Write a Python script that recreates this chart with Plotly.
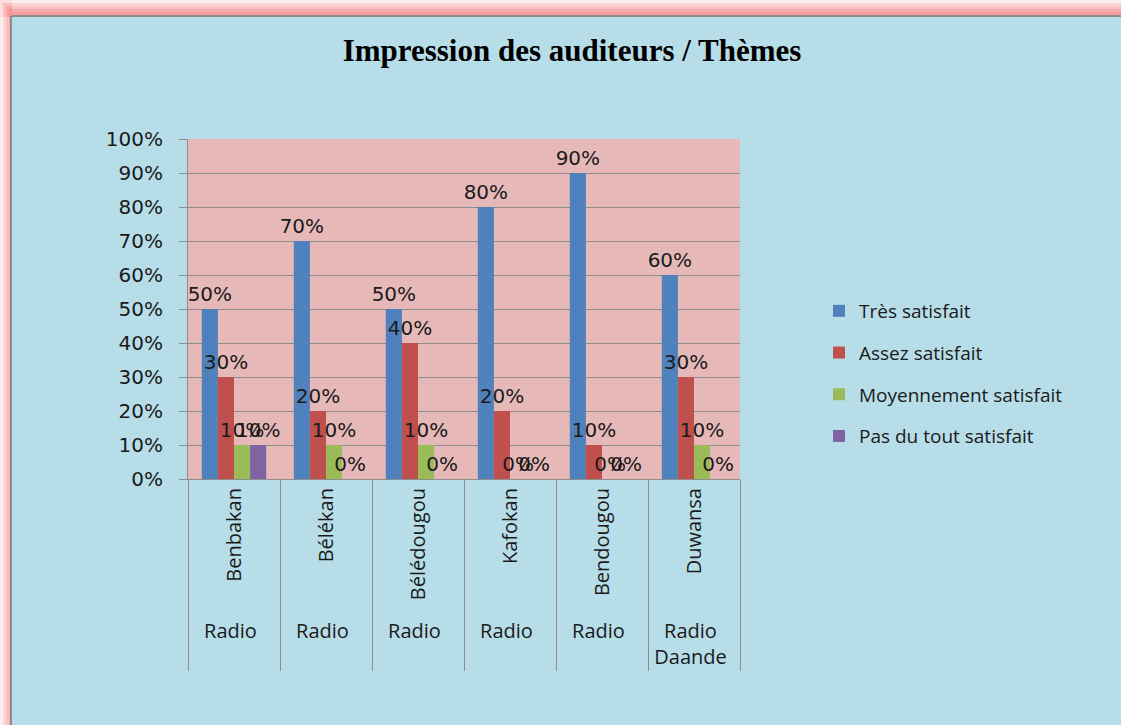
import plotly.graph_objects as go

# Données (en %)
stations = ["Benbakan", "Bélékan", "Bélédougou", "Kafokan", "Bendougou", "Duwansa"]
# libellé du 2e niveau; un caractère invisible évite que plotly fusionne les "Radio" voisins
radios = ["Radio", "Radio\u200b", "Radio\u200b\u200b", "Radio\u200b\u200b\u200b",
          "Radio\u200b\u200b\u200b\u200b", "Radio<br>Daande"]

tres_satisfait = [50, 70, 50, 80, 90, 60]
assez_satisfait = [30, 20, 40, 20, 10, 30]
moyennement_satisfait = [10, 10, 10, 0, 0, 10]
pas_du_tout_satisfait = [10, 0, 0, 0, 0, 0]

series = [
    ("Très satisfait", tres_satisfait, "#4F81BD"),
    ("Assez satisfait", assez_satisfait, "#C0504D"),
    ("Moyennement satisfait", moyennement_satisfait, "#9BBB59"),
    ("Pas du tout satisfait", pas_du_tout_satisfait, "#8064A2"),
]

W, H = 1121, 725
L, R, T, B = 188, 381, 139, 246  # marges -> zone de tracé 188..740 x 139..479


# pixel -> coordonnées "paper"
def px(x):
    return (x - L) / (W - L - R)


def py(y):
    return (H - B - y) / (H - T - B)


fig = go.Figure()
for i, (name, vals, col) in enumerate(series):
    fig.add_trace(go.Bar(
        x=[radios, stations],
        y=[v / 100 for v in vals],
        name=name,
        legendgroup=str(i),
        marker=dict(color=col, line=dict(width=0)),
        text=[f"{v}%" for v in vals],
        textposition="outside",
        constraintext="none",
        cliponaxis=False,
        textfont=dict(family="DejaVu Sans", size=20, color="#1a1a1a"),
        hoverinfo="name+y",
    ))

fig.update_layout(
    width=W, height=H,
    margin=dict(l=L, r=R, t=T, b=B),
    paper_bgcolor="#B7DDE8",
    plot_bgcolor="#E6B9B8",
    barmode="group",
    bargap=0.3,
    bargroupgap=0,
    title=dict(text="<b>Impression des auditeurs / Thèmes</b>",
               x=572 / W, xanchor="center", y=1 - 50 / H, yanchor="middle",
               font=dict(family="Liberation Serif", size=31, color="black")),
    legend=dict(x=px(819), xanchor="left", y=py(292), yanchor="top",
                font=dict(family="Open Sans", size=19, color="#1a1a1a"),
                tracegroupgap=14, bgcolor="rgba(0,0,0,0)"),
    font=dict(family="Open Sans", color="#1a1a1a"),
)

fig.update_yaxes(
    range=[0, 1], dtick=0.1, tickformat=".0%",
    showgrid=True, gridcolor="#8E8E8E", gridwidth=1,
    showline=True, linecolor="#8E8E8E", linewidth=1,
    ticks="outside", ticklen=8, tickcolor="#8E8E8E",
    ticklabelstandoff=12,
    tickfont=dict(family="DejaVu Sans", size=20, color="#1a1a1a"),
    zeroline=False,
)
fig.update_xaxes(
    type="multicategory",
    tickangle=-90,
    tickfont=dict(family="Open Sans", size=20, color="#1a1a1a"),
    showline=True, linecolor="#8E8E8E", linewidth=1,
    showdividers=True, dividercolor="#8E8E8E", dividerwidth=1,
    ticks="",
)

# bordure rose (lueur) + filet gris en haut et à gauche du cadre du graphique
shapes = [
    dict(type="rect", xref="paper", yref="paper", x0=px(0), x1=px(W), y0=py(0), y1=py(17),
         fillcolor="white", line=dict(width=0), layer="below"),
    dict(type="rect", xref="paper", yref="paper", x0=px(0), x1=px(12), y0=py(0), y1=py(H),
         fillcolor="white", line=dict(width=0), layer="below"),
]
for k, a in [(0, 0.15), (3, 0.22), (6, 0.3), (9, 0.4), (12, 0.5)]:
    shapes.append(dict(type="rect", xref="paper", yref="paper",
                       x0=px(k), x1=px(W), y0=py(k), y1=py(17),
                       fillcolor=f"rgba(244,140,140,{a})", line=dict(width=0), layer="below"))
    shapes.append(dict(type="rect", xref="paper", yref="paper",
                       x0=px(k), x1=px(12), y0=py(k), y1=py(H),
                       fillcolor=f"rgba(244,140,140,{a})", line=dict(width=0), layer="below"))
shapes.append(dict(type="line", xref="paper", yref="paper", x0=px(12), x1=px(W),
                   y0=py(16), y1=py(16), line=dict(color="#8C8C8C", width=2), layer="below"))
shapes.append(dict(type="line", xref="paper", yref="paper", x0=px(11), x1=px(11),
                   y0=py(16), y1=py(H), line=dict(color="#8C8C8C", width=2), layer="below"))
fig.update_layout(shapes=shapes)

# pas de marge autour du graphique dans la page (sinon décalage + barres de défilement)
fig.write_html("out.html", config={"displayModeBar": False},
               post_script="document.body.style.margin='0';")
